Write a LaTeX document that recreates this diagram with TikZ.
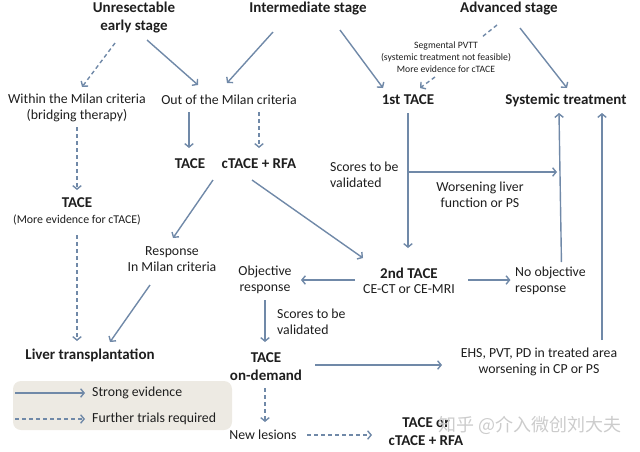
\documentclass[tikz,border=0pt]{standalone}
\usepackage{fontspec}
\setmainfont{Carlito}
\newfontfamily\cjk{Noto Sans CJK SC}
\usetikzlibrary{arrows.meta}
\definecolor{arr}{HTML}{7089A8}
\definecolor{txt}{HTML}{1E1E1E}
\definecolor{legbg}{HTML}{EDEAE3}
\tikzset{
  hd/.style={inner sep=0pt, align=center, text=txt, font=\fontsize{15}{18}\selectfont\bfseries},
  tx/.style={inner sep=0pt, align=center, text=txt, font=\fontsize{13.8}{16.5}\selectfont},
  sm/.style={inner sep=0pt, align=center, text=txt, font=\fontsize{9.7}{12}\selectfont},
  conn/.style={draw=arr, line width=1.4pt, -{Straight Barb[length=3.5pt,width=8.5pt,line width=1.4pt]}},
  dconn/.style={conn, dash pattern=on 4pt off 3pt},
}
\begin{document}
\begin{tikzpicture}[x=1pt,y=-1pt]
\useasboundingbox (0,0) rectangle (640,451);
% legend
\fill[legbg, rounded corners=8pt] (13,381) rectangle (232,430);
% nodes
\node[hd] (unres) at (134,18) {Unresectable\\early stage};
\node[hd] (inter) at (308,9) {Intermediate stage};
\node[hd] (adv) at (509,9) {Advanced stage};
\node[sm] (seg) at (446,57) {Segmental PVTT\\(systemic treatment not feasible)\\More evidence for cTACE};
\node[hd] (first) at (408,100) {1st TACE};
\node[hd] (sys) at (566,100) {Systemic treatment};
\node[tx] (within) at (77,108) {Within the Milan criteria\\(bridging therapy)};
\node[tx] (out) at (229,100) {Out of the Milan criteria};
\node[hd] (tace1) at (190,164) {TACE};
\node[hd] (ctace) at (259,164) {cTACE + RFA};
\node[hd] (taceL) at (77,203) {TACE};
\node[tx, font=\fontsize{11.9}{14}\selectfont] (taceEv) at (77,220) {(More evidence for cTACE)};
\node[tx] (resp) at (172,259) {Response\\In Milan criteria};
\node[tx] (obj) at (265,280) {Objective\\response};
\node[tx, anchor=west, align=left] (scores1) at (330,175) {Scores to be\\validated};
\node[tx] (worsen) at (480,195) {Worsening liver\\function or PS};
\node[hd] (second) at (409,273) {2nd TACE};
\node[tx] (ce) at (409,289) {CE-CT or CE-MRI};
\node[tx, anchor=west, align=left] (noobj) at (515,281) {No objective\\response};
\node[hd] (liver) at (90,355) {Liver transplantation};
\node[hd] (ondemand) at (266,367) {TACE\\on-demand};
\node[tx, anchor=west, align=left] (scores2) at (277,322) {Scores to be\\validated};
\node[tx] (ehs) at (539,362) {EHS, PVT, PD in treated area\\worsening in CP or PS};
\node[tx] (newles) at (263,435) {New lesions};
\node[hd] (taceor) at (426,432) {TACE or\\cTACE + RFA};
\node[tx, anchor=west] (strong) at (92,393) {Strong evidence};
\node[tx, anchor=west] (further) at (92,419) {Further trials required};
\coordinate (legA) at (15,393);
\coordinate (legB) at (15,419);
\node[inner sep=0pt, text=black!20, font=\cjk\fontsize{18}{20}\selectfont] (wm) at (530,425) {知乎 @介入微创刘大夫};
% connectors
\draw[dconn] ([shift={(-19,25)}]unres.center) -- ([shift={(5,-21)}]within.center);
\draw[conn] ([shift={(13,22)}]unres.center) -- ([shift={(-31,-15)}]out.center);
\draw[conn] ([shift={(-35,23)}]inter.center) -- ([shift={(-2,-17)}]out.center);
\draw[conn] ([shift={(32,21)}]inter.center) -- ([shift={(-25,-12)}]first.center);
\draw[draw=arr, line width=1.4pt, dash pattern=on 4pt off 3pt] ([shift={(-12,16)}]adv.center) -- ([shift={(36,-20)}]seg.center);
\draw[dconn] ([shift={(-11,20)}]seg.center) -- ([shift={(12,-12)}]first.center);
\draw[conn] ([shift={(11,19)}]adv.center) -- ([shift={(1,-12)}]sys.center);
\draw[dconn] ([shift={(0,19)}]within.center) -- ([shift={(0,-13)}]taceL.center);
\draw[conn] ([shift={(-40,12)}]out.center) -- ([shift={(-1,-16)}]tace1.center);
\draw[dconn] ([shift={(30,12)}]out.center) -- ([shift={(0,-16)}]ctace.center);
\draw[conn] ([shift={(-46,16)}]ctace.center) -- ([shift={(1,-21)}]resp.center);
\draw[conn] ([shift={(-7,16)}]ctace.center) -- ([shift={(-46,-15)}]second.center);
\draw[dconn] ([shift={(0,15)}]taceEv.center) -- ([shift={(-13,-14)}]liver.center);
\draw[conn] ([shift={(-22,26)}]resp.center) -- ([shift={(20,-13)}]liver.center);
\draw[conn] ([shift={(0,13)}]first.center) -- ([shift={(-1,-25)}]second.center);
\draw[conn] ([shift={(0,72)}]first.center) -- ([shift={(-9,72)}]sys.center);
\draw[conn] ([shift={(11,-19)}]noobj.center) -- ([shift={(-7,13)}]sys.center);
\draw[conn] ([shift={(59,7)}]second.center) -- ([shift={(-40,-1)}]noobj.center);
\draw[conn] ([shift={(-54,7)}]second.center) -- ([shift={(36,0)}]obj.center);
\draw[conn] ([shift={(0,20)}]obj.center) -- ([shift={(-1,-25)}]ondemand.center);
\draw[conn] ([shift={(49,-2)}]ondemand.center) -- ([shift={(-97,3)}]ehs.center);
\draw[conn] ([shift={(63,-22)}]ehs.center) -- ([shift={(36,13)}]sys.center);
\draw[dconn] ([shift={(-1,21)}]ondemand.center) -- ([shift={(2,-13)}]newles.center);
\draw[dconn] ([shift={(44,0)}]newles.center) -- ([shift={(-54,3)}]taceor.center);
\draw[conn] (legA) -- ([xshift=-7pt]strong.west);
\draw[dconn] (legB) -- ([xshift=-7pt]further.west);
\end{tikzpicture}
\end{document}
